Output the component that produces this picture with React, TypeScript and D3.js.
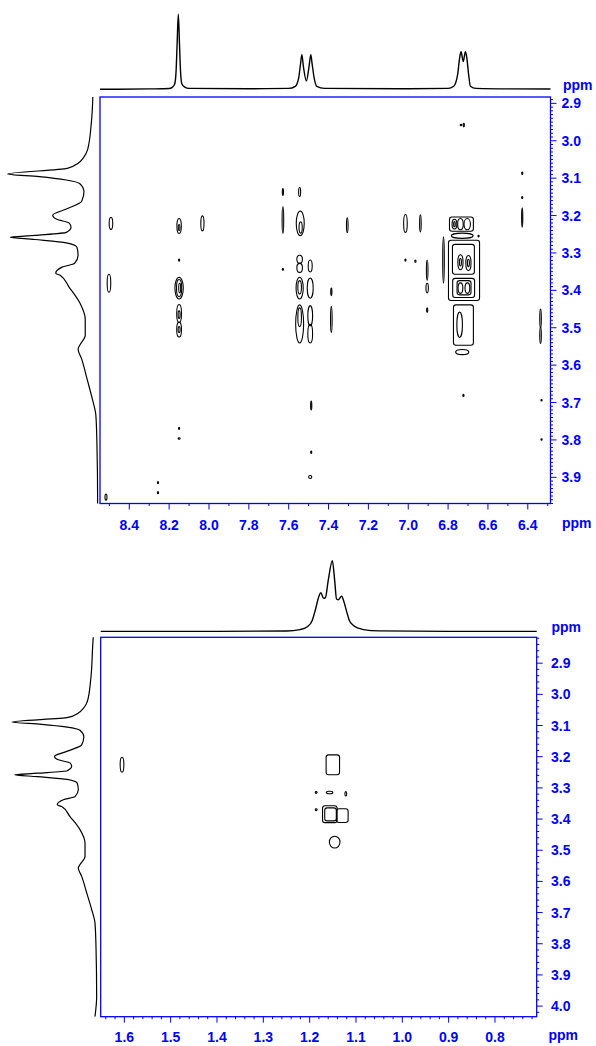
import React from "react";
import * as d3 from "d3";

type Pt = [number, number];
// contour: [F2 ppm, F1 ppm, half width F2 (ppm), half width F1 (ppm)]
type Peak = [number, number, number, number];

// F2 projection of the aromatic window, [ppm, relative intensity]
const aromaticF2: Pt[] = [
  [8.547, 0.0], [8.3, 0.005], [8.2, 0.01], [8.185, 0.025], [8.172, 0.07], [8.165, 0.25],
  [8.16, 0.6], [8.154, 1.0], [8.148, 0.6], [8.143, 0.25], [8.136, 0.07], [8.122, 0.03],
  [8.1, 0.012], [7.8, 0.008], [7.6, 0.012], [7.567, 0.04], [7.55, 0.15], [7.54, 0.35],
  [7.534, 0.46], [7.526, 0.3], [7.511, 0.11], [7.498, 0.3], [7.489, 0.46], [7.483, 0.35],
  [7.472, 0.15], [7.459, 0.04], [7.42, 0.012], [7.0, 0.008], [6.8, 0.012], [6.772, 0.04],
  [6.752, 0.2], [6.742, 0.42], [6.735, 0.5], [6.724, 0.37], [6.713, 0.5], [6.706, 0.42],
  [6.697, 0.2], [6.688, 0.04], [6.66, 0.012], [6.5, 0.006], [6.286, 0.005],
];

// F2 projection of the aliphatic window
const aliphaticF2: Pt[] = [
  [1.651, 0.005], [1.4, 0.005], [1.25, 0.01], [1.221, 0.03], [1.205, 0.07], [1.195, 0.15],
  [1.188, 0.3], [1.18, 0.5], [1.176, 0.55], [1.17, 0.47], [1.166, 0.48], [1.16, 0.72],
  [1.151, 1.0], [1.146, 0.72], [1.142, 0.46], [1.138, 0.45], [1.131, 0.5], [1.126, 0.42],
  [1.12, 0.28], [1.115, 0.17], [1.106, 0.09], [1.095, 0.05], [1.084, 0.03], [1.05, 0.012],
  [0.9, 0.005], [0.71, 0.005],
];

// F1 projection (same in both panels)
const f1Projection: Pt[] = [
  [2.815, 0.044], [2.847, 0.051], [2.953, 0.074], [3.023, 0.114], [3.045, 0.16], [3.06, 0.22],
  [3.074, 0.34], [3.089, 1.0], [3.096, 0.65], [3.105, 0.35], [3.115, 0.2], [3.136, 0.155],
  [3.162, 0.18], [3.183, 0.356], [3.199, 0.5], [3.21, 0.455], [3.22, 0.318], [3.231, 0.298],
  [3.245, 0.35], [3.253, 0.7], [3.258, 0.97], [3.264, 0.7], [3.273, 0.35], [3.285, 0.232],
  [3.306, 0.22], [3.328, 0.259], [3.338, 0.396], [3.354, 0.467], [3.36, 0.415], [3.392, 0.318],
  [3.434, 0.2], [3.477, 0.141], [3.52, 0.141], [3.546, 0.2], [3.557, 0.22], [3.584, 0.18],
  [3.637, 0.121], [3.691, 0.062], [3.733, 0.024], [3.808, 0.012], [3.969, 0.004], [4.034, 0.024],
];

// roundish contour rings, aromatic panel
const aromaticPeaks: Peak[] = [
  [6.735, 2.958, 0.004, 0.002], [6.721, 2.958, 0.002, 0.005],
  [8.492, 3.221, 0.009, 0.016], [8.15, 3.228, 0.011, 0.02], [8.15, 3.232, 0.004, 0.008],
  [8.033, 3.221, 0.008, 0.02], [7.629, 3.212, 0.004, 0.036], [7.629, 3.137, 0.002, 0.009],
  [7.545, 3.137, 0.005, 0.012], [7.542, 3.221, 0.02, 0.033], [7.54, 3.232, 0.008, 0.015],
  [7.306, 3.226, 0.004, 0.02], [8.15, 3.319, 0.003, 0.003], [7.629, 3.344, 0.002, 0.002],
  [7.545, 3.317, 0.014, 0.011], [7.545, 3.34, 0.014, 0.012], [7.492, 3.335, 0.01, 0.016],
  [8.502, 3.381, 0.009, 0.024], [8.15, 3.394, 0.021, 0.029], [8.15, 3.394, 0.013, 0.023],
  [8.147, 3.394, 0.005, 0.013], [7.545, 3.394, 0.018, 0.029], [7.545, 3.392, 0.009, 0.018],
  [7.492, 3.394, 0.015, 0.027], [7.386, 3.404, 0.003, 0.01], [8.15, 3.462, 0.012, 0.024],
  [8.15, 3.505, 0.012, 0.02], [8.15, 3.465, 0.005, 0.01], [8.15, 3.505, 0.005, 0.008],
  [7.545, 3.49, 0.02, 0.051], [7.545, 3.472, 0.009, 0.025], [7.492, 3.468, 0.012, 0.027],
  [7.492, 3.516, 0.012, 0.025], [7.386, 3.478, 0.004, 0.035], [7.014, 3.221, 0.009, 0.024],
  [6.939, 3.221, 0.004, 0.023], [7.014, 3.319, 0.002, 0.003], [6.964, 3.322, 0.002, 0.003],
  [6.905, 3.346, 0.004, 0.027], [6.905, 3.394, 0.006, 0.013], [6.905, 3.453, 0.003, 0.006],
  [6.823, 3.319, 0.004, 0.062], [6.768, 3.223, 0.012, 0.013], [6.738, 3.223, 0.014, 0.015],
  [6.704, 3.223, 0.016, 0.015], [6.768, 3.223, 0.004, 0.007], [6.729, 3.254, 0.055, 0.007],
  [6.647, 3.255, 0.002, 0.002], [6.738, 3.325, 0.013, 0.02], [6.698, 3.327, 0.013, 0.02],
  [6.738, 3.325, 0.005, 0.01], [6.698, 3.327, 0.005, 0.01], [6.738, 3.394, 0.012, 0.014],
  [6.703, 3.394, 0.012, 0.014], [6.742, 3.492, 0.014, 0.034], [6.729, 3.565, 0.033, 0.007],
  [6.723, 3.681, 0.003, 0.003], [6.428, 3.087, 0.002, 0.003], [6.428, 3.152, 0.002, 0.003],
  [6.428, 3.205, 0.003, 0.026], [6.336, 3.475, 0.004, 0.025], [6.336, 3.52, 0.004, 0.022],
  [6.331, 3.694, 0.002, 0.002], [6.331, 3.799, 0.002, 0.002], [7.487, 3.708, 0.003, 0.012],
  [7.487, 3.833, 0.003, 0.003], [7.492, 3.899, 0.008, 0.004], [8.15, 3.769, 0.002, 0.003],
  [8.15, 3.796, 0.005, 0.002], [8.256, 3.914, 0.002, 0.003], [8.256, 3.941, 0.002, 0.003],
  [8.517, 3.953, 0.005, 0.008],
];

// squarish contour rings, aromatic panel
const aromaticBlocks: Peak[] = [
  [6.733, 3.223, 0.06, 0.019], [6.72, 3.3465, 0.078, 0.0805], [6.723, 3.317, 0.055, 0.04],
  [6.722, 3.3935, 0.055, 0.0255], [6.72, 3.393, 0.035, 0.019], [6.723, 3.493, 0.05, 0.054],
];

const aliphaticPeaks: Peak[] = [
  [1.605, 3.226, 0.004, 0.024], [1.186, 3.315, 0.002, 0.003], [1.122, 3.319, 0.002, 0.007],
  [1.186, 3.37, 0.002, 0.003], [1.146, 3.474, 0.0115, 0.019],
];

const aliphaticBlocks: Peak[] = [
  [1.15, 3.226, 0.0145, 0.032], [1.157, 3.315, 0.007, 0.004], [1.1565, 3.3845, 0.0157, 0.027],
  [1.155, 3.385, 0.0125, 0.021], [1.1295, 3.389, 0.0125, 0.022],
];

const aromaticXTicks = [8.4, 8.2, 8.0, 7.8, 7.6, 7.4, 7.2, 7.0, 6.8, 6.6, 6.4];
const aromaticYTicks = [2.9, 3.0, 3.1, 3.2, 3.3, 3.4, 3.5, 3.6, 3.7, 3.8, 3.9];
const aliphaticXTicks = [1.6, 1.5, 1.4, 1.3, 1.2, 1.1, 1.0, 0.9, 0.8];
const aliphaticYTicks = [2.9, 3.0, 3.1, 3.2, 3.3, 3.4, 3.5, 3.6, 3.7, 3.8, 3.9, 4.0];

const BLUE = "#0000ff";
const FONT = "'Liberation Sans', Arial, Helvetica, sans-serif";

const minorTicks = (dom: number[], step: number, majors: number[]) => {
  const lo = Math.min(...dom), hi = Math.max(...dom);
  return d3.range(Math.ceil(lo / step - 1e-6), Math.floor(hi / step + 1e-6) + 1)
    .map(k => k * step)
    .filter(v => !majors.some(m => Math.abs(m - v) < step / 2));
};

type PanelProps = {
  id: string;
  frame: { l: number; t: number; r: number; b: number };
  xDom: [number, number];
  yDom: [number, number];
  f2: Pt[];
  f2Base: number;
  f2Height: number;
  f1Base: number;
  f1Width: number;
  peaks: Peak[];
  blocks: Peak[];
  xTicks: number[];
  yTicks: number[];
  xMinor: number;
  yMinor: number;
  yLabelX: number;
  xLabelY: number;
  ppmTop: [number, number];
  ppmBottom: [number, number];
};

function Panel(p: PanelProps) {
  const { frame } = p;
  const x = d3.scaleLinear().domain(p.xDom).range([frame.l, frame.r]);
  const y = d3.scaleLinear().domain(p.yDom).range([frame.t, frame.b]);
  const topI = d3.scaleLinear().domain([0, 1]).range([p.f2Base, p.f2Base - p.f2Height]);
  const leftI = d3.scaleLinear().domain([0, 1]).range([p.f1Base, p.f1Base - p.f1Width]);

  const topLine = d3.line<Pt>().x(d => x(d[0])).y(d => topI(d[1])).curve(d3.curveMonotoneX);
  const leftLine = d3.line<Pt>().x(d => leftI(d[1])).y(d => y(d[0])).curve(d3.curveMonotoneY);

  const fmt = d3.format(".1f");
  const xMin = minorTicks(p.xDom, p.xMinor, p.xTicks);
  const yMin = minorTicks(p.yDom, p.yMinor, p.yTicks);

  const half = (d: Peak) => ({
    cx: x(d[0]),
    cy: y(d[1]),
    rx: Math.max(0.6, Math.abs(x(d[0] + d[2]) - x(d[0]))),
    ry: Math.max(0.6, Math.abs(y(d[1] + d[3]) - y(d[1]))),
  });

  return (
    <g>
      <defs>
        <clipPath id={`${p.id}-f1`}>
          <rect x={0} y={frame.t} width={frame.l} height={frame.b - frame.t} />
        </clipPath>
        <clipPath id={`${p.id}-plot`}>
          <rect x={frame.l} y={frame.t} width={frame.r - frame.l} height={frame.b - frame.t} />
        </clipPath>
      </defs>

      <path d={topLine(p.f2) ?? ""} fill="none" stroke="#000" strokeWidth={1.4} />
      <path d={leftLine(f1Projection) ?? ""} fill="none" stroke="#000" strokeWidth={1.2}
        clipPath={`url(#${p.id}-f1)`} />

      <g clipPath={`url(#${p.id}-plot)`} fill="none" stroke="#000" strokeWidth={1.1}>
        {p.peaks.map((d, i) => {
          const e = half(d);
          return <ellipse key={i} cx={e.cx} cy={e.cy} rx={e.rx} ry={e.ry} />;
        })}
        {p.blocks.map((d, i) => {
          const e = half(d);
          return (
            <rect key={i} x={e.cx - e.rx} y={e.cy - e.ry} width={2 * e.rx} height={2 * e.ry}
              rx={2.5} ry={2.5} />
          );
        })}
      </g>

      <rect x={frame.l} y={frame.t} width={frame.r - frame.l} height={frame.b - frame.t}
        fill="none" stroke={BLUE} strokeWidth={1.3} />

      <g stroke={BLUE} strokeWidth={1}>
        {p.xTicks.map(v => (
          <line key={`xM${v}`} x1={x(v)} x2={x(v)} y1={frame.b} y2={frame.b + 6} />
        ))}
        {xMin.map(v => (
          <line key={`xm${v}`} x1={x(v)} x2={x(v)} y1={frame.b} y2={frame.b + 2.5} />
        ))}
        {p.yTicks.map(v => (
          <line key={`yM${v}`} x1={frame.r} x2={frame.r + 6} y1={y(v)} y2={y(v)} />
        ))}
        {yMin.map(v => (
          <line key={`ym${v}`} x1={frame.r} x2={frame.r + 2.5} y1={y(v)} y2={y(v)} />
        ))}
      </g>

      <g fill={BLUE} fontFamily={FONT} fontWeight="bold" fontSize={14}>
        {p.xTicks.map(v => (
          <text key={`xl${v}`} x={x(v)} y={p.xLabelY} textAnchor="middle">{fmt(v)}</text>
        ))}
        {p.yTicks.map(v => (
          <text key={`yl${v}`} x={p.yLabelX} y={y(v) + 5}>{fmt(v)}</text>
        ))}
        <text x={p.ppmTop[0]} y={p.ppmTop[1]}>ppm</text>
        <text x={p.ppmBottom[0]} y={p.ppmBottom[1]}>ppm</text>
      </g>
    </g>
  );
}

export default function App() {
  return (
    <svg width={596} height={1046} style={{ position: "absolute", left: 0, top: 0, background: "#fff" }}>
      <rect width={596} height={1046} fill="#fff" />
      <Panel
        id="arom"
        frame={{ l: 100, t: 97, r: 550.5, b: 503.5 }}
        xDom={[8.547, 6.286]}
        yDom={[2.883, 3.97]}
        f2={aromaticF2}
        f2Base={89.3}
        f2Height={75}
        f1Base={98}
        f1Width={90.5}
        peaks={aromaticPeaks}
        blocks={aromaticBlocks}
        xTicks={aromaticXTicks}
        yTicks={aromaticYTicks}
        xMinor={0.1}
        yMinor={0.01}
        yLabelX={561.5}
        xLabelY={529.5}
        ppmTop={[563, 90]}
        ppmBottom={[562, 528]}
      />
      <Panel
        id="aliph"
        frame={{ l: 100.7, t: 637.3, r: 536.7, b: 1016.7 }}
        xDom={[1.651, 0.71]}
        yDom={[2.817, 4.034]}
        f2={aliphaticF2}
        f2Base={631.7}
        f2Height={71}
        f1Base={97}
        f1Width={85}
        peaks={aliphaticPeaks}
        blocks={aliphaticBlocks}
        xTicks={aliphaticXTicks}
        yTicks={aliphaticYTicks}
        xMinor={0.02}
        yMinor={0.02}
        yLabelX={551}
        xLabelY={1041.7}
        ppmTop={[551.5, 631.5]}
        ppmBottom={[548.5, 1040]}
      />
    </svg>
  );
}
